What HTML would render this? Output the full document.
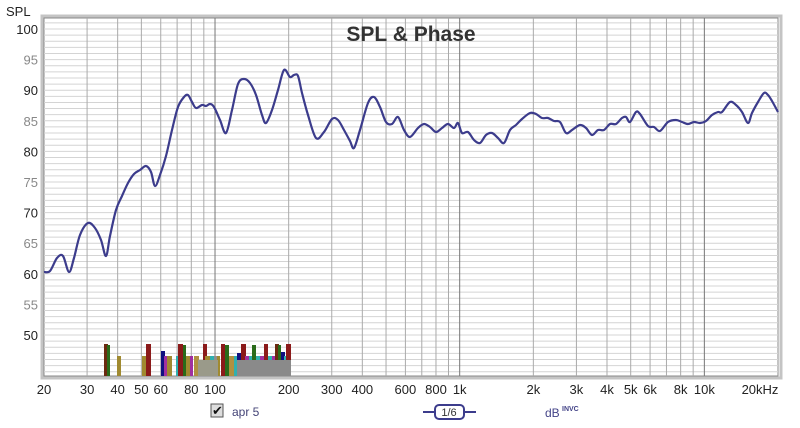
<!DOCTYPE html>
<html><head><meta charset="utf-8"><style>
body{margin:0;background:#fff;}
svg{display:block;font-family:"Liberation Sans",sans-serif;}
</style></head><body>
<svg width="800" height="428" viewBox="0 0 800 428" xmlns="http://www.w3.org/2000/svg">
<rect width="800" height="428" fill="#fff"/>
<rect x="42" y="16" width="739" height="362" fill="none" stroke="#c4c4c4" stroke-width="3"/>
<rect x="44" y="18" width="734" height="358" fill="#fff" stroke="#888" stroke-width="1"/>
<g stroke="#d4d4d4" stroke-width="1" id="hg"></g>
<g id="vg"></g>
<g id="bars"></g>
<g id="yl" font-size="13"></g>
<g id="xl" font-size="13" fill="#222" text-anchor="middle"></g>
<text x="6" y="16" font-size="13" fill="#222">SPL</text>
<text x="411" y="41" font-size="21" font-weight="bold" fill="#333" text-anchor="middle">SPL &amp; Phase</text>
<path id="curve" fill="none" stroke="#3c3c8c" stroke-width="2.2" stroke-linejoin="round" d=""/>
<rect x="211" y="404" width="12" height="13" fill="#ddd" stroke="#555"/>
<text x="212" y="415" font-size="13" fill="#111">✔</text>
<text x="232" y="416" font-size="12" fill="#447">apr 5</text>
<line x1="423" y1="412" x2="476" y2="412" stroke="#3c3c8c" stroke-width="2"/>
<rect x="435" y="405" width="29" height="14" rx="4" fill="#fff" stroke="#3c3c8c" stroke-width="2"/>
<text x="449" y="416" font-size="11" fill="#333" text-anchor="middle">1/6</text>
<text x="545" y="417" font-size="12" fill="#448">dB</text>
<text x="562" y="411" font-size="7" font-weight="bold" fill="#448">INVC</text>
</svg>
<script>
const ns="http://www.w3.org/2000/svg";
function el(t,a,p,txt){const e=document.createElementNS(ns,t);for(const k in a)e.setAttribute(k,a[k]);if(txt)e.textContent=txt;document.getElementById(p).appendChild(e);}
const X=f=>44+Math.log10(f/20)*244.67;
const Y=v=>29+(100-v)*6.12;
for(let v=44;v<=102;v++){const y=Y(v);if(y<18||y>376)continue;el('line',{x1:44,x2:778,y1:y,y2:y},'hg');}
const fs=[];for(const dec of [10,100,1000,10000])for(let m=1;m<10;m++){const f=m*dec;if(f>20&&f<20000)fs.push(f);}
fs.forEach(f=>{const maj=(f==100||f==1000||f==10000);el('line',{x1:X(f),x2:X(f),y1:18,y2:376,stroke:maj?'#777':'#aaa','stroke-width':1},'vg');});
for(let v=50;v<=100;v+=5){el('text',{x:38,y:Y(v)+5,'text-anchor':'end',fill:v%10==0?'#222':'#888'},'yl',String(v));}
const xl=[[20,'20'],[30,'30'],[40,'40'],[50,'50'],[60,'60'],[80,'80'],[100,'100'],[200,'200'],[300,'300'],[400,'400'],[600,'600'],[800,'800'],[1000,'1k'],[2000,'2k'],[3000,'3k'],[4000,'4k'],[5000,'5k'],[6000,'6k'],[8000,'8k'],[10000,'10k'],[20000,'20kHz']];
xl.forEach(([f,t])=>{let x=X(f);if(f==20000)x=760;el('text',{x:x,y:394},'xl',t);});
const P="44,272 50,271 57,258 63,256 69,272 74,258 80,235 88,223 95,228 101,240 106,256 110,236 116,210 122,196 128,183 134,174 140,170 146,166 151,172 155,186 160,175 166,156 172,130 178,107 184,97 188,95 192,102 196,108 202,105 206,106 210,104 214,107 220,120 226,133 232,110 238,84 244,79 250,83 256,95 262,115 266,123 272,110 278,90 284,70 290,77 294,75 298,76 302,93 308,115 316,138 324,132 332,119 338,120 344,130 350,141 354,148 360,130 368,103 374,97 380,107 386,122 392,124 398,117 404,130 410,137 418,128 424,124 430,127 436,132 442,128 448,124 454,128 458,123 462,133 468,132 474,140 480,143 486,135 492,133 498,138 504,143 510,130 516,125 522,119 530,113 536,114 542,118 548,118 554,121 560,122 566,133 572,130 580,125 586,128 592,135 598,130 604,130 610,124 616,124 622,118 626,117 630,122 636,112 640,114 648,126 654,127 660,131 668,122 676,120 682,122 688,124 694,122 700,123 706,121 712,115 718,112 722,112 730,102 736,105 742,112 748,123 752,113 758,102 764,93 768,95 772,101 778,112".split(' ').map(s=>s.split(',').map(Number));
let d='M'+P[0][0]+','+P[0][1];
for(let i=0;i<P.length-1;i++){const p0=P[Math.max(0,i-1)],p1=P[i],p2=P[i+1],p3=P[Math.min(P.length-1,i+2)];
d+=` C${p1[0]+(p2[0]-p0[0])/6},${p1[1]+(p2[1]-p0[1])/6} ${p2[0]-(p3[0]-p1[0])/6},${p2[1]-(p3[1]-p1[1])/6} ${p2[0]},${p2[1]}`;}
document.getElementById('curve').setAttribute('d',d);
const B=[[104,4,344,'#6b2a10'],[107,3,345,'#2a6b1a'],[117,4,356,'#a08a30'],[142,4,356,'#a08a30'],[146,5,344,'#8b1a1a'],[161,4,351,'#101080'],[164,3,356,'#a030a0'],[167,5,356,'#a08a30'],[176,4,356,'#30b0b0'],[178,5,344,'#8b1a1a'],[183,3,345,'#2a6b1a'],[186,4,356,'#a08a30'],[190,3,356,'#a030a0'],[194,5,356,'#b09040'],[202,3,360,'#909090'],[203,4,344,'#8b1a1a'],[205,5,356,'#a08a30'],[210,4,356,'#30b0b0'],[214,3,356,'#909090'],[217,3,356,'#a08a30'],[221,4,344,'#8b1a1a'],[225,4,345,'#2a6b1a'],[229,5,356,'#b09040'],[234,5,356,'#30b0b0'],[237,4,353,'#101080'],[241,5,344,'#8b1a1a'],[245,4,356,'#a030a0'],[249,3,356,'#30b0b0'],[252,4,345,'#2a6b1a'],[256,4,356,'#30b0b0'],[260,4,356,'#a030a0'],[264,4,344,'#8b1a1a'],[268,4,356,'#30b0b0'],[272,4,356,'#a030a0'],[275,4,344,'#6b2a10'],[278,3,345,'#2a6b1a'],[281,4,352,'#101080'],[284,4,356,'#30b0b0'],[286,5,344,'#8b1a1a']];
B.forEach(([x,w,t,c])=>el('rect',{x:x,y:t,width:w,height:376-t,fill:c},'bars'));
el('rect',{x:237,y:360,width:54,height:16,fill:'#8a8a8a'},'bars');
el('rect',{x:198,y:360,width:20,height:16,fill:'#9a9a8a'},'bars');
</script>
</body></html>
